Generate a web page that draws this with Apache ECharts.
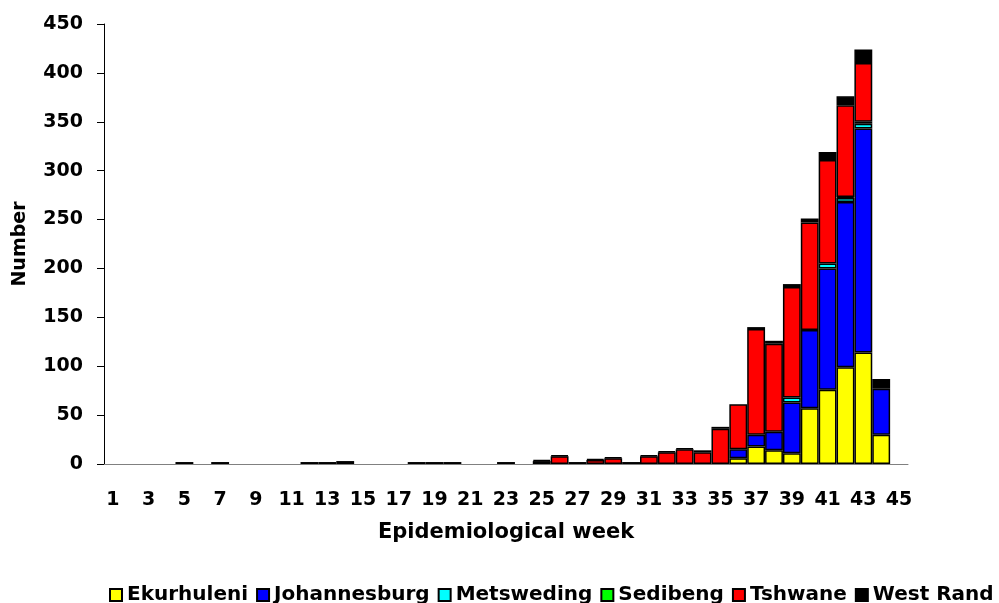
<!DOCTYPE html>
<html style="height: 100%">
<head>
    <meta charset="utf-8">
    <title>Epidemiological week</title>
</head>
<body style="height: 100%; margin: 0; background: #fff">
    <div id="container" style="width: 999px; height: 603px"></div>
    <script src="https://cdn.jsdelivr.net/npm/echarts@6/dist/echarts.min.js"></script>
    <script type="text/javascript">
        // weeks 1..45
        var weeks = [];
        for (var w = 1; w <= 45; w++) weeks.push(String(w));

        //                 1  2  3  4  5  6  7  8  9 10 11 12 13 14 15 16 17 18 19 20 21 22 23 24 25 26 27 28 29 30 31  32  33  34  35  36   37   38   39   40   41   42   43  44 45
        var ekurhuleni   = [0, 0, 0, 0, 0, 0, 0, 0, 0, 0, 0, 0, 0, 0, 0, 0, 0, 0, 0, 0, 0, 0, 0, 0, 0, 0, 0, 0, 0, 0, 0,  0,  0,  0,  0,  6,  18,  14,  11,  57,  76,  99, 114, 30, 0];
        var johannesburg = [0, 0, 0, 0, 0, 0, 0, 0, 0, 0, 0, 0, 0, 0, 0, 0, 0, 0, 0, 0, 0, 0, 0, 0, 0, 0, 0, 0, 0, 0, 0,  0,  0,  0,  0,  9,  12,  19,  52,  80, 124, 169, 229, 47, 0];
        var metsweding   = [0, 0, 0, 0, 0, 0, 0, 0, 0, 0, 0, 0, 0, 0, 0, 0, 0, 0, 0, 0, 0, 0, 0, 0, 0, 0, 0, 0, 0, 0, 0,  0,  0,  0,  0,  0,   0,   0,   5,   0,   5,   4,   5,  0, 0];
        var sedibeng     = [0, 0, 0, 0, 0, 0, 0, 0, 0, 0, 0, 0, 0, 0, 0, 0, 0, 0, 0, 0, 0, 0, 0, 0, 0, 0, 0, 0, 0, 0, 0,  0,  0,  0,  0,  0,   0,   0,   0,   0,   0,   1,   2,  0, 0];
        var tshwane      = [0, 0, 0, 0, 0, 0, 0, 0, 0, 0, 0, 0, 0, 0, 0, 0, 0, 0, 0, 0, 0, 0, 0, 0, 3, 8, 0, 4, 6, 0, 8, 12, 15, 12, 36, 46, 108,  90, 113, 110, 106,  94,  60,  0, 0];
        var westRand     = [0, 0, 0, 0, 2, 0, 2, 0, 0, 0, 0, 2, 2, 3, 0, 0, 0, 2, 2, 2, 0, 0, 2, 0, 1, 1, 2, 1, 1, 2, 1,  1,  1,  2,  2,  0,   2,   3,   3,   4,   8,   9,  14, 10, 0];

        var districts = ['Ekurhuleni', 'Johannesburg', 'Metsweding', 'Sedibeng', 'Tshwane', 'West Rand'];
        var values = [ekurhuleni, johannesburg, metsweding, sedibeng, tshwane, westRand];
        var colors = ['#ffff00', '#0000ff', '#00ffff', '#00ff00', '#ff0000', '#000000'];

        var font = 'DejaVu Sans';

        var series = districts.map(function (name, i) {
            return {
                name: name,
                type: 'bar',
                stack: 'all',
                barCategoryGap: 0,
                itemStyle: { color: colors[i], borderColor: '#000', borderWidth: 1.5 },
                data: values[i].map(function (v) { return v ? v : null; })
            };
        });

        var myChart = echarts.init(document.getElementById('container'));
        myChart.setOption({
            animation: false,
            grid: { left: 104, right: 91, top: 24, bottom: 139 },
            legend: {
                data: districts,
                icon: 'rect',
                left: 104,
                right: 0,
                top: 580,
                itemWidth: 12,
                itemHeight: 12,
                itemGap: 8,
                textStyle: { fontFamily: font, fontWeight: 'bold', fontSize: 20, color: '#000' }
            },
            xAxis: {
                type: 'category',
                data: weeks,
                name: 'Epidemiological week',
                nameLocation: 'middle',
                nameGap: 58,
                nameTextStyle: { fontFamily: font, fontWeight: 'bold', fontSize: 21, color: '#000' },
                axisLine: { lineStyle: { color: '#808080', width: 1 } },
                axisTick: { interval: 0, length: 7, lineStyle: { color: '#444' } },
                axisLabel: { interval: 1, margin: 27, fontFamily: font, fontWeight: 'bold', fontSize: 19, color: '#000' }
            },
            yAxis: {
                type: 'value',
                min: 0,
                max: 450,
                interval: 50,
                name: 'Number',
                nameLocation: 'middle',
                nameGap: 74,
                nameTextStyle: { fontFamily: font, fontWeight: 'bold', fontSize: 19, color: '#000' },
                axisLine: { show: true, lineStyle: { color: '#000', width: 1 } },
                axisTick: { show: true, length: 7, lineStyle: { color: '#000' } },
                splitLine: { show: false },
                axisLabel: { margin: 21, fontFamily: font, fontWeight: 'bold', fontSize: 19, color: '#000' }
            },
            series: series
        });
    </script>
</body>
</html>
